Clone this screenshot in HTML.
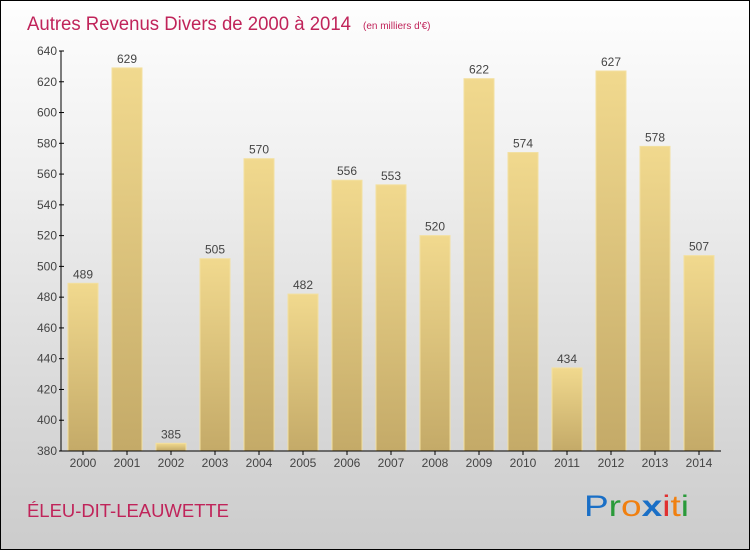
<!DOCTYPE html>
<html><head><meta charset="utf-8"><style>
body{margin:0}
#c{width:750px;height:550px;position:relative;box-sizing:border-box;border:1px solid #000;background:linear-gradient(#fefefe,#f0f0f0 30%,#d8d8d8 75%,#cccccc);font-family:"Liberation Sans",sans-serif;overflow:hidden}
</style></head><body>
<div id="c">
<svg width="750" height="550" id="s">
<defs><linearGradient id="g" x1="0" y1="0" x2="0" y2="1"><stop offset="0" stop-color="#f1d98e"/><stop offset="1" stop-color="#c4aa68"/></linearGradient></defs>
<text x="26" y="29" font-size="19" fill="#c0245a" textLength="324" lengthAdjust="spacingAndGlyphs">Autres Revenus Divers de 2000 à 2014</text>
<text x="362" y="28" font-size="10" fill="#c0245a">(en milliers d'€)</text>
<text x="26" y="516" font-size="18" fill="#c0245a" textLength="202" lengthAdjust="spacingAndGlyphs">ÉLEU-DIT-LEAUWETTE</text>
<text x="583" y="515" font-size="30" textLength="105" lengthAdjust="spacingAndGlyphs"><tspan fill="#1a6fc6">P</tspan><tspan fill="#2a9a3a">r</tspan><tspan fill="#f08010">o</tspan><tspan fill="#1a6fc6" font-weight="bold">x</tspan><tspan fill="#e03030">i</tspan><tspan fill="#f08010">t</tspan><tspan fill="#2a9a3a">i</tspan></text>
<g id="plot"></g>
</svg></div>
<script>
const years=["2000","2001","2002","2003","2004","2005","2006","2007","2008","2009","2010","2011","2012","2013","2014"];
const values=[489,629,385,505,570,482,556,553,520,622,574,434,627,578,507];
const ticks=[380,400,420,440,460,480,500,520,540,560,580,600,620,640];
const X0=60,BAND=44,Y0=450,YMIN=380,YMAX=640,H=400;
const y=v=>Y0-(v-YMIN)/(YMAX-YMIN)*H;
const x=i=>X0+i*BAND;
const ns="http://www.w3.org/2000/svg",p=document.getElementById('plot');
function mk(t,a,txt){const e=document.createElementNS(ns,t);for(const k in a)e.setAttribute(k,a[k]);if(txt!=null)e.textContent=txt;p.appendChild(e);return e;}
values.forEach((v,i)=>{
 const r=mk('rect',{x:x(i)+7,y:y(v),width:30,height:Y0-y(v),fill:'url(#g)',stroke:'#f3e0a0','stroke-width':1});
 
 
 const t=mk('text',{x:x(i)+22,y:y(v)-5,'font-size':12,fill:'#444','text-anchor':'middle'},v);
 
 
 const xl=mk('text',{x:x(i)+22,y:466,'font-size':12,fill:'#444','text-anchor':'middle'},years[i]);
 
 
 const tk=mk('line',{x1:x(i)+22,x2:x(i)+22,y1:Y0,y2:Y0+4,stroke:'#000'});
 
 
});
ticks.forEach(v=>{
 const t=mk('text',{x:56,y:y(v)+4,'font-size':12,fill:'#444','text-anchor':'end'},v);
 
 
 const l=mk('line',{x1:58,x2:63,y1:y(v),y2:y(v),stroke:'#000'});
 
 
});
const ya=mk('line',{x1:X0,x2:X0,y1:y(YMAX),y2:Y0,stroke:'#000'});


const xa=mk('line',{x1:X0,x2:X0+BAND*15,y1:Y0,y2:Y0,stroke:'#000'});


</script>
</body></html>
